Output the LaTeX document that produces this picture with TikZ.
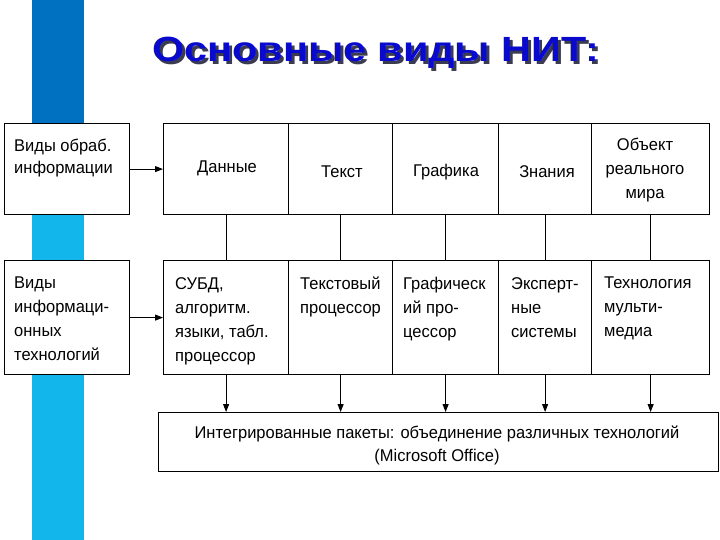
\documentclass[tikz,border=0pt]{standalone}
\usepackage{fontspec}
\setmainfont{Liberation Sans}
\newfontfamily\boxfont[FakeStretch=0.97]{Liberation Sans}
\newfontfamily\titlefam[FakeStretch=1.18]{Liberation Sans}
\usetikzlibrary{arrows.meta}
\definecolor{bardark}{HTML}{0070C0}
\definecolor{barlight}{HTML}{12B6EA}
\definecolor{titleblue}{HTML}{0A0ACC}
\definecolor{shadowc}{HTML}{3C3C50}
\begin{document}
\begin{tikzpicture}[x=1pt,y=-1pt,
  cell/.style={draw, line width=1.2pt, anchor=north west, inner sep=0pt},
  txt/.style={anchor=north west, inner sep=0pt, align=left, font=\boxfont\fontsize{17}{24}\selectfont},
  ctxt/.style={inner sep=0pt, align=center, font=\boxfont\fontsize{17}{24}\selectfont},
  conn/.style={line width=1pt},
  arr/.style={line width=1pt, -{Triangle[length=8pt,width=6pt]}},
  titlefont/.style={font=\titlefam\bfseries\fontsize{35}{40}\selectfont}]
\useasboundingbox (0,0) rectangle (720,540);
\fill[white] (0,0) rectangle (720,540);
\fill[bardark] (32,0) rectangle (84,170);
\fill[barlight] (32,170) rectangle (84,540);
% title
\node[titlefont, text=shadowc] (titlesh) at (379,56) {Основные виды НИТ:};
\node[titlefont, text=titleblue] (title) at (376,53) {Основные виды НИТ:};
% left boxes
\node[cell, fill=white, minimum width=125pt, minimum height=91pt] (l1) at (4,123) {};
\node[cell, fill=white, minimum width=125pt, minimum height=114pt] (l2) at (4,260) {};
\node[txt, font=\boxfont\fontsize{17}{22}\selectfont] (l1t) at (14,139) {Виды обраб.\\информации};
\node[txt] (l2t) at (14,277) {Виды\\информаци-\\онных\\технологий};
% top row
\node[cell, minimum width=125pt, minimum height=91pt] (t1) at (163,123) {};
\node[cell, minimum width=104pt, minimum height=91pt] (t2) at (288,123) {};
\node[cell, minimum width=106pt, minimum height=91pt] (t3) at (392,123) {};
\node[cell, minimum width=93pt, minimum height=91pt] (t4) at (498,123) {};
\node[cell, minimum width=118pt, minimum height=91pt] (t5) at (591,123) {};
\node[ctxt] (t1t) at (227,168) {Данные};
\node[ctxt] (t2t) at (342,172) {Текст};
\node[ctxt] (t3t) at (446,172) {Графика};
\node[ctxt] (t4t) at (547,172) {Знания};
\node[ctxt] (t5t) at (645,170) {Объект\\реального\\мира};
% middle row
\node[cell, minimum width=125pt, minimum height=114pt] (m1) at (163,260) {};
\node[cell, minimum width=104pt, minimum height=114pt] (m2) at (288,260) {};
\node[cell, minimum width=106pt, minimum height=114pt] (m3) at (392,260) {};
\node[cell, minimum width=93pt, minimum height=114pt] (m4) at (498,260) {};
\node[cell, minimum width=118pt, minimum height=114pt] (m5) at (591,260) {};
\node[txt] (m1t) at (175,277) {СУБД,\\алгоритм.\\языки, табл.\\процессор};
\node[txt] (m2t) at (300,277) {Текстовый\\процессор};
\node[txt] (m3t) at (403,277) {Графическ\\ий про-\\цессор};
\node[txt] (m4t) at (511,277) {Эксперт-\\ные\\системы};
\node[txt] (m5t) at (604,277) {Технология\\мульти-\\медиа};
% bottom box
\node[cell, minimum width=560pt, minimum height=59pt] (b) at (158,412) {};
\node[ctxt, font=\boxfont\fontsize{17}{23}\selectfont] (bt) at (437,445) {Интегрированные пакеты: объединение различных технологий\\(Microsoft Office)};
% connectors
\draw[arr] (l1) -- (t1);
\draw[arr] (l2.east) -- (m1.west);
\foreach \i in {1,...,5}{
  \draw[conn] (t\i.south) -- (m\i.north);
  \draw[arr] (m\i.south) -- (m\i.south |- b.north);
}
\end{tikzpicture}
\end{document}
